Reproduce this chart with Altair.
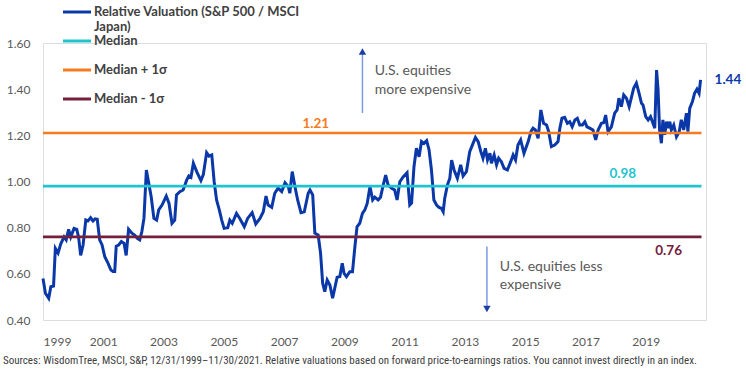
import altair as alt
import pandas as pd

# ---- data ----
# years since 12/1999 (axis label "1999" marks the start) and relative valuation
T = [0.00,0.08,0.19,0.26,0.35,0.41,0.50,0.59,0.70,0.77,0.85,0.92,1.03,1.12,1.18,1.25,1.33,1.42,1.49,1.58,
     1.66,1.73,1.80,1.88,1.96,2.05,2.16,2.25,2.32,2.38,2.43,2.51,2.60,2.69,2.76,2.84,2.95,3.04,3.13,3.21,
     3.28,3.35,3.43,3.51,3.59,3.68,3.77,3.84,3.95,4.09,4.18,4.28,4.37,
     4.43,4.54,4.65,4.77,4.84,4.91,4.99,5.10,5.24,5.32,5.43,5.51,5.60,5.68,5.76,5.85,5.93,6.01,6.13,6.20,
     6.28,6.42,6.53,6.68,6.79,6.94,7.06,7.20,7.31,7.40,7.47,7.59,7.69,7.80,7.92,8.03,8.14,8.19,8.27,8.36,
     8.45,8.56,8.67,8.80,8.86,
     8.95,9.02,9.13,9.21,9.28,9.35,9.43,9.52,9.61,9.68,9.76,9.85,9.93,9.99,10.07,10.18,10.27,10.35,10.42,10.51,
     10.60,10.68,10.76,10.85,10.94,11.01,11.12,11.20,11.29,11.37,11.45,11.57,11.67,11.75,11.84,11.95,12.08,12.17,12.23,12.31,
     12.39,12.48,12.56,12.64,12.73,12.81,12.89,12.97,13.06,13.14,13.22,13.28,13.33,
     13.42,13.50,13.56,13.64,13.75,13.86,13.94,14.05,14.16,14.27,14.35,14.44,14.53,14.60,14.68,14.75,14.83,14.88,14.97,15.05,
     15.12,15.21,15.30,15.41,15.52,15.60,15.68,15.76,15.85,15.96,16.10,16.19,16.26,16.34,16.43,16.52,16.61,16.71,16.78,16.87,
     16.98,17.09,17.15,17.22,17.31,17.40,17.48,17.56,17.65,17.73,17.81,
     17.90,17.98,18.05,18.14,18.25,18.34,18.42,18.53,18.61,18.67,18.75,18.86,18.97,19.05,19.11,19.19,19.27,19.36,19.45,19.53,
     19.60,19.69,19.78,19.86,19.91,20.00,20.08,20.16,20.24,20.30,20.36,20.41,20.46,20.52,20.57,20.63,20.69,20.74,20.80,20.85,
     20.93,21.02,21.11,21.18,21.26,21.35,21.40,21.46,21.55,21.62,21.70,21.77,21.82]
V = [0.58,0.516,0.494,0.544,0.547,0.71,0.69,0.73,0.76,0.747,0.793,0.76,0.797,0.793,0.76,0.68,0.725,0.833,0.829,0.843,
     0.829,0.838,0.836,0.747,0.725,0.674,0.645,0.617,0.61,0.61,0.72,0.725,0.74,0.732,0.68,0.793,0.776,0.768,0.754,0.747,
     0.783,0.84,1.05,0.992,0.934,0.84,0.833,0.877,0.898,0.937,0.906,0.819,0.833,
     0.942,0.956,0.963,1.007,1.024,1.018,1.079,1.043,1.004,1.03,1.125,1.11,1.115,0.999,0.92,0.877,0.833,0.797,0.80,0.833,
     0.819,0.862,0.84,0.804,0.84,0.865,0.816,0.84,0.869,0.937,0.898,0.888,0.949,0.971,0.956,0.995,0.978,0.949,1.043,0.978,
     0.92,0.865,0.869,0.949,0.963,
     0.942,0.776,0.768,0.69,0.559,0.523,0.573,0.552,0.494,0.537,0.585,0.588,0.646,0.602,0.588,0.609,0.609,0.718,0.804,0.819,
     0.862,0.877,0.906,0.978,0.92,0.932,0.92,0.932,0.985,1.028,0.985,0.971,0.963,0.92,0.999,1.02,1.038,0.898,0.906,1.064,
     1.144,1.107,1.173,1.165,1.177,1.137,1.05,0.92,0.898,0.888,0.884,0.869,0.927,
     0.985,1.014,1.093,1.05,1.014,1.072,1.024,1.043,1.129,1.165,1.191,1.173,1.129,1.101,1.144,1.093,1.122,1.079,1.115,1.072,
     1.101,1.086,1.057,1.05,1.086,1.115,1.093,1.158,1.18,1.122,1.173,1.216,1.231,1.223,1.187,1.31,1.252,1.245,1.216,1.151,
     1.158,1.173,1.231,1.274,1.278,1.252,1.259,1.237,1.267,1.274,1.245,
     1.245,1.259,1.237,1.231,1.223,1.18,1.223,1.252,1.255,1.288,1.216,1.237,1.296,1.31,1.361,1.324,1.375,1.361,1.324,1.367,
     1.404,1.426,1.382,1.339,1.332,1.281,1.267,1.281,1.252,1.231,1.483,1.397,1.223,1.166,1.267,1.202,1.259,1.231,1.259,1.223,
     1.245,1.194,1.216,1.267,1.223,1.296,1.216,1.317,1.346,1.382,1.40,1.382,1.44]
assert len(T) == len(V), (len(T), len(V))

START_YEAR = 1999
REF_NAMES = ["Median", "Median + 1σ", "Median - 1σ"]
REF_VALUES = [0.98, 1.21, 0.76]
REF_LABEL_YEARS = [2018.24, 2008.05, 2019.76]
REF_LABEL_DY = [-12, -9, 14]
REF_END = 2020.85

X_TICKS = list(range(1999, 2020, 2))
Y_TICKS = [0.4, 0.6, 0.8, 1.0, 1.2, 1.4, 1.6]

SERIES_NAME = "Relative Valuation (S&P 500 / MSCI Japan)"
LEGEND_LINES = ["Relative Valuation (S&P 500 / MSCI", "Median", "Median + 1σ", "Median - 1σ"]

BLUE = "#0a38a8"
CYAN = "#1fc4cf"
ORANGE = "#f47b20"
MAROON = "#74203c"
REF_COLORS = [CYAN, ORANGE, MAROON]
GRAY = "#595959"
FONT = "Lato"

series = pd.DataFrame({"year": [START_YEAR + t for t in T], "value": V})
refs = pd.DataFrame({"name": REF_NAMES, "value": REF_VALUES, "color": REF_COLORS,
                     "start": [START_YEAR] * 3, "end": [REF_END] * 3,
                     "label_year": REF_LABEL_YEARS,
                     "label": [f"{v:.2f}" for v in REF_VALUES]})
dummy = pd.DataFrame({"k": [0]})

xs = alt.Scale(domain=[1999, 2021], nice=False, zero=False)
ys = alt.Scale(domain=[0.4, 1.6], nice=False, zero=False)

line = alt.Chart(series).mark_line(color=BLUE, strokeWidth=3).encode(
    x=alt.X("year:Q", scale=xs, title=None,
            axis=alt.Axis(values=X_TICKS, format="d", grid=False, domain=False,
                          ticks=False, tickSize=0, labelPadding=16, labelFontSize=12,
                          labelColor=GRAY, labelFont=FONT)),
    y=alt.Y("value:Q", scale=ys, title=None,
            axis=alt.Axis(values=Y_TICKS, format=".2f", grid=False, domain=False,
                          ticks=False, tickSize=0, labelPadding=13, labelFontSize=12,
                          labelColor=GRAY, labelFont=FONT)),
)

rules = alt.Chart(refs).mark_rule(strokeWidth=2.6).encode(
    x="start:Q", x2="end:Q", y="value:Q",
    color=alt.Color("color:N", scale=None),
)

ref_labels = []
for i in range(3):
    ref_labels.append(
        alt.Chart(refs.iloc[[i]]).mark_text(font=FONT, fontSize=13.5, fontWeight="bold",
                                            dy=REF_LABEL_DY[i], align="center", baseline="middle").encode(
            x="label_year:Q", y="value:Q", text="label:N",
            color=alt.Color("color:N", scale=None))
    )

last = series.tail(1).assign(label=lambda d: d["value"].map(lambda v: f"{v:.2f}"))
last_label = alt.Chart(last).mark_text(font=FONT, fontSize=13.5, fontWeight="bold", color=BLUE,
                                        align="left", dx=14, baseline="middle").encode(
    x="year:Q", y="value:Q", text="label:N")

# annotation arrows (data units)
arrows = pd.DataFrame({"year": [2009.60, 2013.73], "from": [1.297, 0.718], "to": [1.56, 0.46]})
shafts = alt.Chart(arrows).mark_rule(color="#7c9be0", strokeWidth=1.5).encode(
    x="year:Q", y="from:Q", y2="to:Q")
heads_up = alt.Chart(arrows.iloc[[0]]).mark_point(shape="triangle-up", filled=True, color="#1b3fa6",
                                                  size=55, opacity=1).encode(
    x="year:Q", y=alt.datum(1.563))
heads_dn = alt.Chart(arrows.iloc[[1]]).mark_point(shape="triangle-down", filled=True, color="#1b3fa6",
                                                  size=55, opacity=1).encode(
    x="year:Q", y=alt.datum(0.448))

notes = pd.DataFrame({
    "text": ["U.S. equities", "more expensive", "U.S. equities less", "expensive"],
    "year": [2010.01, 2010.01, 2014.16, 2014.16],
    "value": [1.479, 1.397, 0.631, 0.552],
})
note_text = alt.Chart(notes).mark_text(font=FONT, fontSize=14, color=GRAY, align="left",
                                       baseline="middle").encode(
    x="year:Q", y="value:Q", text="text:N")

# legend (custom, positioned relative to plot origin)
leg_colors = [BLUE, CYAN, ORANGE, MAROON]
leg_y = [-31, -2, 27, 56]
LEG_SIZE = 13
legend_layers = []
for lab, col, yy in zip(LEGEND_LINES, leg_colors, leg_y):
    legend_layers.append(alt.Chart(dummy).mark_rule(color=col, strokeWidth=3).encode(
        x=alt.value(20), x2=alt.value(48), y=alt.value(yy)))
    legend_layers.append(alt.Chart(dummy).mark_text(font=FONT, fontSize=LEG_SIZE, fontWeight="bold",
                                                    color="#404040", align="left", baseline="middle",
                                                    text=lab).encode(
        x=alt.value(51), y=alt.value(yy)))
legend_layers.append(alt.Chart(dummy).mark_text(font=FONT, fontSize=LEG_SIZE, fontWeight="bold",
                                                color="#404040", align="left", baseline="middle",
                                                text="Japan)").encode(
    x=alt.value(51), y=alt.value(-16)))

FOOTNOTE = ("Sources: WisdomTree, MSCI, S&P, 12/31/1999–11/30/2021. Relative valuations based on "
            "forward price-to-earnings ratios. You cannot invest directly in an index.")
foot = alt.Chart(dummy).mark_text(font="Liberation Sans Narrow, Roboto Condensed, DejaVu Sans Condensed, Roboto",
                                  fontSize=11, color="#404040", align="left", baseline="middle",
                                  text=FOOTNOTE).encode(x=alt.value(-40), y=alt.value(318))

chart = alt.layer(
    line, rules, *ref_labels, last_label, shafts, heads_up, heads_dn, note_text, *legend_layers, foot
).properties(
    width=663, height=277,
    padding={"left": 43, "top": 43, "right": 40, "bottom": 57},
    autosize=alt.AutoSizeParams(type="none"),
).configure_view(stroke=None).configure(background="white")

chart.save("out.html", embed_options={"renderer": "svg", "actions": False})
